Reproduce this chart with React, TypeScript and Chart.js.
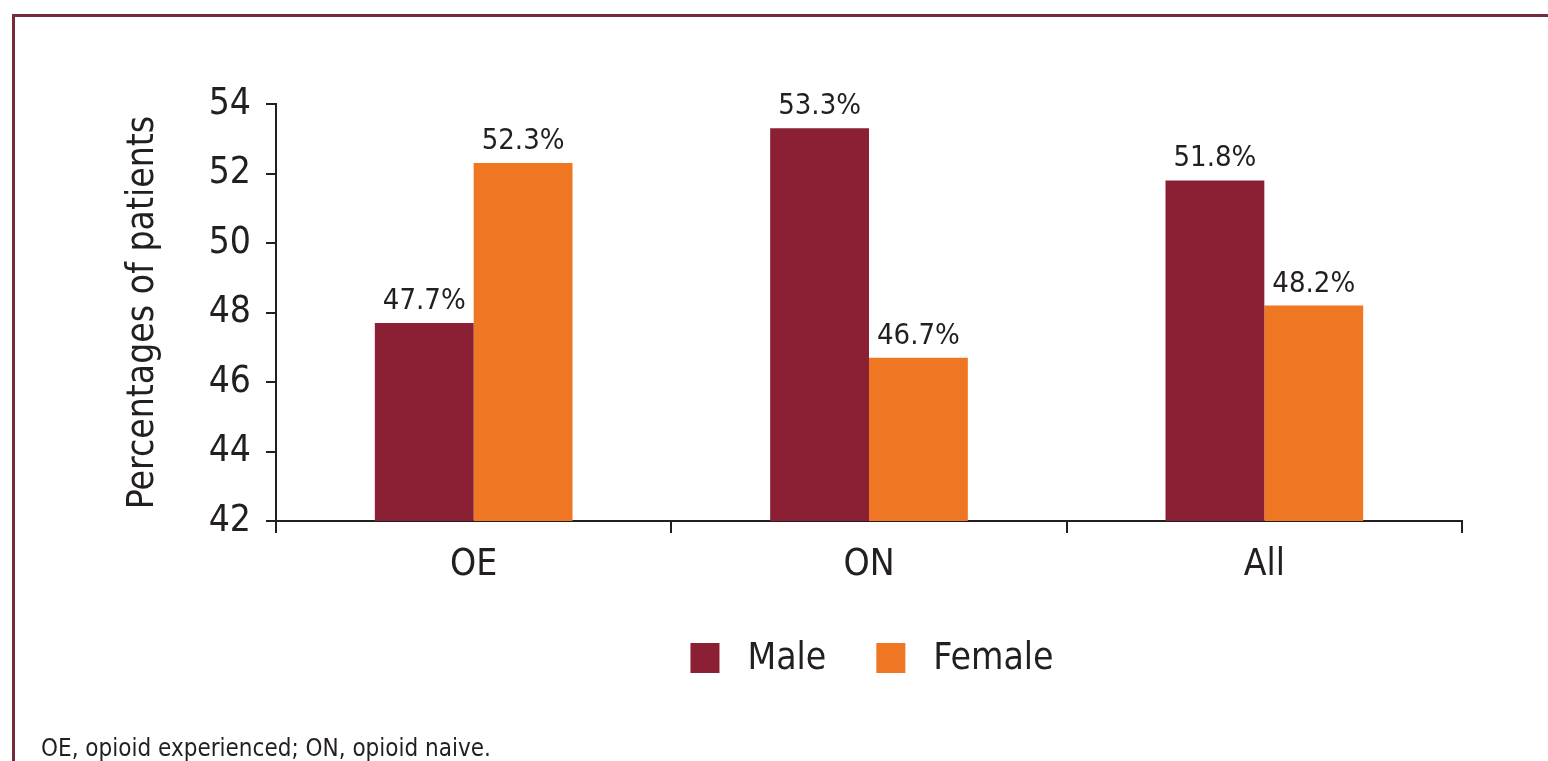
import React, { useEffect, useRef } from "react";
import { Chart, registerables } from "chart.js";

Chart.register(...registerables);

const categories = ["OE", "ON", "All"];
const maleValues = [47.7, 53.3, 51.8];
const femaleValues = [52.3, 46.7, 48.2];
const seriesLabels = ["Male", "Female"];
const yTickMin = 42;
const yTickMax = 54;
const yTickStep = 2;
const yTitle = "Percentages of patients";
const footnote = "OE, opioid experienced; ON, opioid naive.";

const FONT = '"Liberation Sans Narrow", "DejaVu Sans Condensed", "Roboto", sans-serif';
const TEXT = "#231f20";
const MALE = "#8b1f33";
const FEMALE = "#ef7622";

const valueLabels = {
  id: "valueLabels",
  afterDatasetsDraw(chart: any) {
    const ctx = chart.ctx;
    ctx.save();
    ctx.font = `29px ${FONT}`;
    ctx.fillStyle = TEXT;
    ctx.textAlign = "center";
    ctx.textBaseline = "alphabetic";
    chart.data.datasets.forEach((ds: any, di: number) => {
      const meta = chart.getDatasetMeta(di);
      meta.data.forEach((bar: any, i: number) => {
        ctx.fillText(ds.data[i].toFixed(1) + "%", bar.x, bar.y - 14);
      });
    });
    ctx.restore();
  },
};

const customLegend = {
  id: "customLegend",
  afterDraw(chart: any) {
    const ctx = chart.ctx;
    const area = chart.chartArea;
    ctx.save();
    ctx.font = `37px ${FONT}`;
    ctx.textBaseline = "middle";
    ctx.textAlign = "left";
    const box = 29;
    const gapText = 28;
    const gapItem = 50;
    const items = chart.data.datasets.map((ds: any) => ({
      label: ds.label,
      color: ds.backgroundColor,
      w: ctx.measureText(ds.label).width,
    }));
    const total =
      items.reduce((s: number, it: any) => s + box + gapText + it.w, 0) +
      gapItem * (items.length - 1);
    let x = (area.left + area.right) / 2 - total / 2 + 3;
    const cy = 658;
    items.forEach((it: any) => {
      ctx.fillStyle = it.color;
      ctx.fillRect(x, cy - 15, box, 30);
      ctx.fillStyle = TEXT;
      ctx.fillText(it.label, x + box + gapText, cy + 1);
      x += box + gapText + it.w + gapItem;
    });
    ctx.restore();
  },
};

export default function App() {
  const ref = useRef<HTMLCanvasElement | null>(null);

  useEffect(() => {
    if (!ref.current) return;
    const chart = new Chart(ref.current, {
      type: "bar",
      data: {
        labels: categories,
        datasets: [
          {
            label: seriesLabels[0],
            data: maleValues,
            backgroundColor: MALE,
            categoryPercentage: 0.5,
            barPercentage: 1.0,
          },
          {
            label: seriesLabels[1],
            data: femaleValues,
            backgroundColor: FEMALE,
            categoryPercentage: 0.5,
            barPercentage: 1.0,
          },
        ],
      },
      options: {
        responsive: false,
        animation: false,
        devicePixelRatio: 1,
        layout: { padding: { left: 117, right: 86, top: 104, bottom: 0 } },
        plugins: {
          legend: { display: false },
          tooltip: { enabled: false },
        },
        scales: {
          x: {
            offset: true,
            grid: {
              offset: true,
              drawOnChartArea: false,
              drawTicks: true,
              tickLength: 12,
              lineWidth: 2,
              color: TEXT,
            },
            border: { display: true, color: TEXT, width: 2 },
            ticks: {
              color: TEXT,
              font: { family: FONT, size: 37 },
              padding: 10,
            },
            afterFit(scale: any) {
              scale.height = 761 - 521;
            },
          },
          y: {
            min: yTickMin,
            max: yTickMax,
            grid: {
              drawOnChartArea: false,
              drawTicks: true,
              tickLength: 10,
              lineWidth: 2,
              color: TEXT,
            },
            border: { display: true, color: TEXT, width: 2 },
            ticks: {
              stepSize: yTickStep,
              color: TEXT,
              font: { family: FONT, size: 37 },
              padding: 15,
            },
            title: {
              display: true,
              text: yTitle,
              color: TEXT,
              font: { family: FONT, size: 37 },
            },
            afterFit(scale: any) {
              scale.width = 276 - 117;
            },
          },
        },
      },
      plugins: [valueLabels, customLegend],
    });
    return () => chart.destroy();
  }, []);

  return (
    <div style={{ position: "absolute", left: 0, top: 0, width: 1548, height: 761, overflow: "hidden", background: "#fff" }}>
      <div
        style={{
          position: "absolute",
          left: 12,
          top: 14,
          width: 1560,
          height: 800,
          borderTop: "3px solid #78293b",
          borderLeft: "3px solid #78293b",
          boxSizing: "border-box",
        }}
      />
      <canvas ref={ref} width={1548} height={761} style={{ position: "absolute", left: 0, top: 0 }} />
      <div
        style={{
          position: "absolute",
          left: 41,
          top: 736,
          fontFamily: FONT,
          fontSize: 24,
          lineHeight: "25px",
          color: TEXT,
          whiteSpace: "nowrap",
        }}
      >
        {footnote}
      </div>
    </div>
  );
}
